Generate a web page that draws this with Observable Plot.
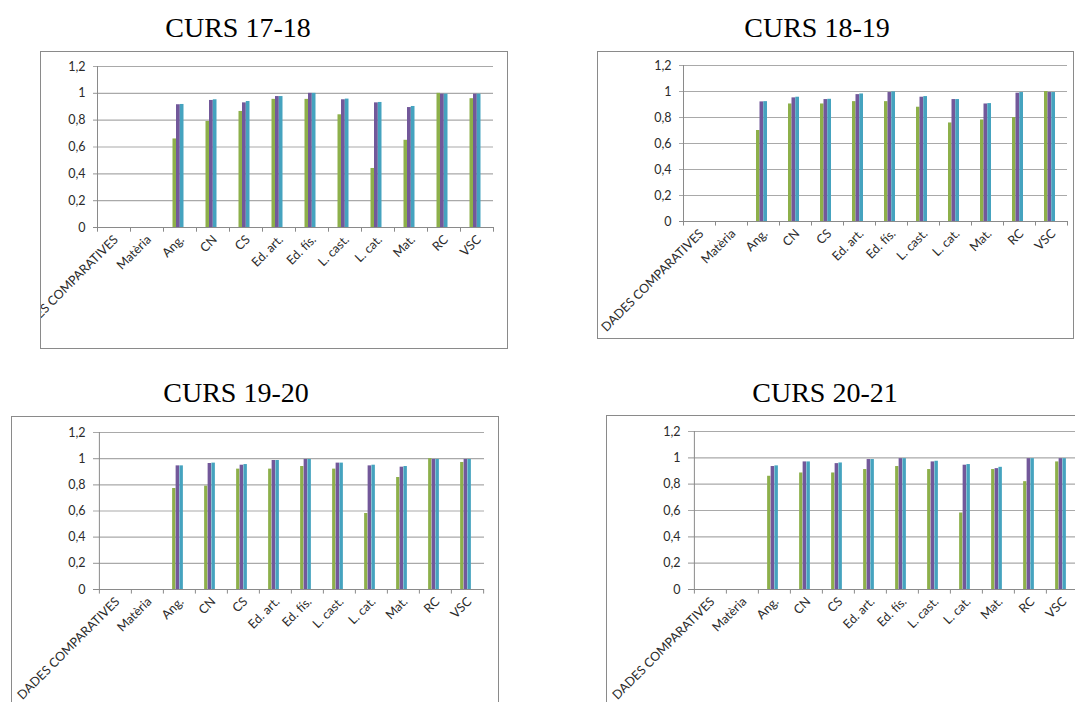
<!DOCTYPE html>
<html><head><meta charset="utf-8">
<script src="https://cdn.jsdelivr.net/npm/d3@7"></script>
<script src="https://cdn.jsdelivr.net/npm/@observablehq/plot@0.6"></script>
<style>
body{margin:0;background:#fff;}
#root{position:relative;width:1075px;height:702px;overflow:hidden;background:#fff;}
.panel{position:absolute;overflow:hidden;background:#fff;}
.panel svg{position:absolute;left:0;top:0;}
.frame{position:absolute;left:0;top:0;right:0;bottom:0;border:1px solid #8a8a8a;box-sizing:border-box;pointer-events:none;}
.title{position:absolute;width:300px;text-align:center;font-family:"Liberation Serif","Times New Roman",serif;font-size:28px;line-height:28px;color:#000;white-space:nowrap;}
</style></head><body><div id="root"></div>
<script>
const categories = ["DADES COMPARATIVES","Matèria","Ang.","CN","CS","Ed. art.","Ed. fís.","L. cast.","L. cat.","Mat.","RC","VSC"];
const yTickValues = [0, 0.2, 0.4, 0.6, 0.8, 1, 1.2];

const green1718  = [null,null,0.66,0.79,0.865,0.955,0.955,0.84,0.44,0.65,1.00,0.96];
const purple1718 = [null,null,0.915,0.947,0.929,0.976,1.00,0.952,0.929,0.894,0.994,0.994];
const cyan1718   = [null,null,0.917,0.952,0.939,0.976,1.00,0.957,0.932,0.902,0.994,0.994];

const green1819  = [null,null,0.70,0.904,0.904,0.922,0.922,0.879,0.758,0.781,0.80,1.00];
const purple1819 = [null,null,0.92,0.951,0.938,0.976,0.992,0.956,0.938,0.904,0.987,0.992];
const cyan1819   = [null,null,0.922,0.956,0.94,0.981,0.997,0.961,0.938,0.907,0.992,0.992];

const green1920  = [null,null,0.772,0.79,0.92,0.92,0.94,0.92,0.581,0.856,1.00,0.971];
const purple1920 = [null,null,0.945,0.963,0.95,0.986,0.994,0.966,0.945,0.935,0.994,0.994];
const cyan1920   = [null,null,0.945,0.966,0.955,0.986,0.994,0.966,0.95,0.94,0.994,0.994];

const green2021  = [null,null,0.86,0.885,0.885,0.911,0.934,0.911,0.581,0.911,0.819,0.969];
const purple2021 = [null,null,0.934,0.969,0.956,0.987,0.994,0.969,0.944,0.918,0.994,0.994];
const cyan2021   = [null,null,0.939,0.969,0.961,0.987,0.994,0.974,0.949,0.928,0.994,0.994];

const titles = ["CURS 17-18","CURS 18-19","CURS 19-20","CURS 20-21"];

const panels = [
  {title: titles[0], cx: 238, ty: 13.5,  box: [40, 51, 468, 298],  m: [15, 15, 122, 57], series: [green1718, purple1718, cyan1718]},
  {title: titles[1], cx: 817, ty: 13.5,  box: [597, 51, 477, 288], m: [14, 7, 118, 86],  series: [green1819, purple1819, cyan1819]},
  {title: titles[2], cx: 236, ty: 378.5, box: [11, 416, 488, 300], m: [16, 15, 127, 86], series: [green1920, purple1920, cyan1920]},
  {title: titles[3], cx: 825, ty: 378.5, box: [606, 415, 488, 300], m: [16, 15, 126, 86], series: [green2021, purple2021, cyan2021]}
];

const colors = ["#8db04a", "#72589a", "#45a3bf"];
const offsets = [[-7, -3.5], [-3.5, 0.3], [0.3, 4]];
const axisColor = "#8a8a8a";
const gridColor = "#a9a9a9";
const textColor = "#2b2b2b";
const fmt = d => String(d).replace(".", ",");

const root = document.getElementById("root");

for (const p of panels) {
  const [bx, by, bw, bh] = p.box;
  const [mt, mr, mb, ml] = p.m;
  const step = (bw - ml - mr) / categories.length;
  const half = step / 2;

  const barMarks = p.series.map((vals, k) => {
    const rows = categories.map((c, i) => ({c, v: vals[i]})).filter(d => d.v != null);
    const [a, b] = offsets[k];
    return Plot.barY(rows, {x: "c", y: "v", fill: colors[k], insetLeft: half + a, insetRight: half - b});
  });

  const chart = Plot.plot({
    width: bw, height: bh,
    marginTop: mt, marginRight: mr, marginBottom: mb, marginLeft: ml,
    x: {type: "band", domain: categories, padding: 0},
    y: {domain: [0, 1.2]},
    style: {fontFamily: "Lato, 'Open Sans', sans-serif", fontSize: "12px", color: textColor, background: "transparent", overflow: "visible"},
    marks: [
      Plot.ruleY(yTickValues.slice(1), {y: d => d, stroke: gridColor, strokeWidth: 1.2, insetLeft: -4}),
      Plot.axisY({ticks: yTickValues, tickFormat: fmt, tickSize: 0, tickPadding: 12, fontSize: 12.5, label: null, fill: textColor}),
      ...barMarks,
      Plot.ruleX(categories, {x: d => d, dx: -half, y1: 0, y2: -0.035, stroke: axisColor}),
      Plot.ruleX([categories[categories.length - 1]], {x: d => d, dx: half, y1: 0, y2: -0.035, stroke: axisColor}),
      Plot.ruleX([categories[0]], {x: d => d, dx: -half, stroke: axisColor}),
      Plot.ruleY([0], {y: d => d, stroke: axisColor, insetLeft: -4}),
      Plot.axisX({tickSize: 0, tickRotate: -45, tickPadding: 10, dx: 2, fontSize: 12.5, label: null, fill: textColor})
    ]
  });

  const panel = document.createElement("div");
  panel.className = "panel";
  Object.assign(panel.style, {left: bx + "px", top: by + "px", width: bw + "px", height: bh + "px"});
  panel.appendChild(chart);
  const frame = document.createElement("div");
  frame.className = "frame";
  panel.appendChild(frame);
  root.appendChild(panel);

  const t = document.createElement("div");
  t.className = "title";
  t.textContent = p.title;
  Object.assign(t.style, {left: (p.cx - 150) + "px", top: p.ty + "px"});
  root.appendChild(t);
}
</script></body></html>
